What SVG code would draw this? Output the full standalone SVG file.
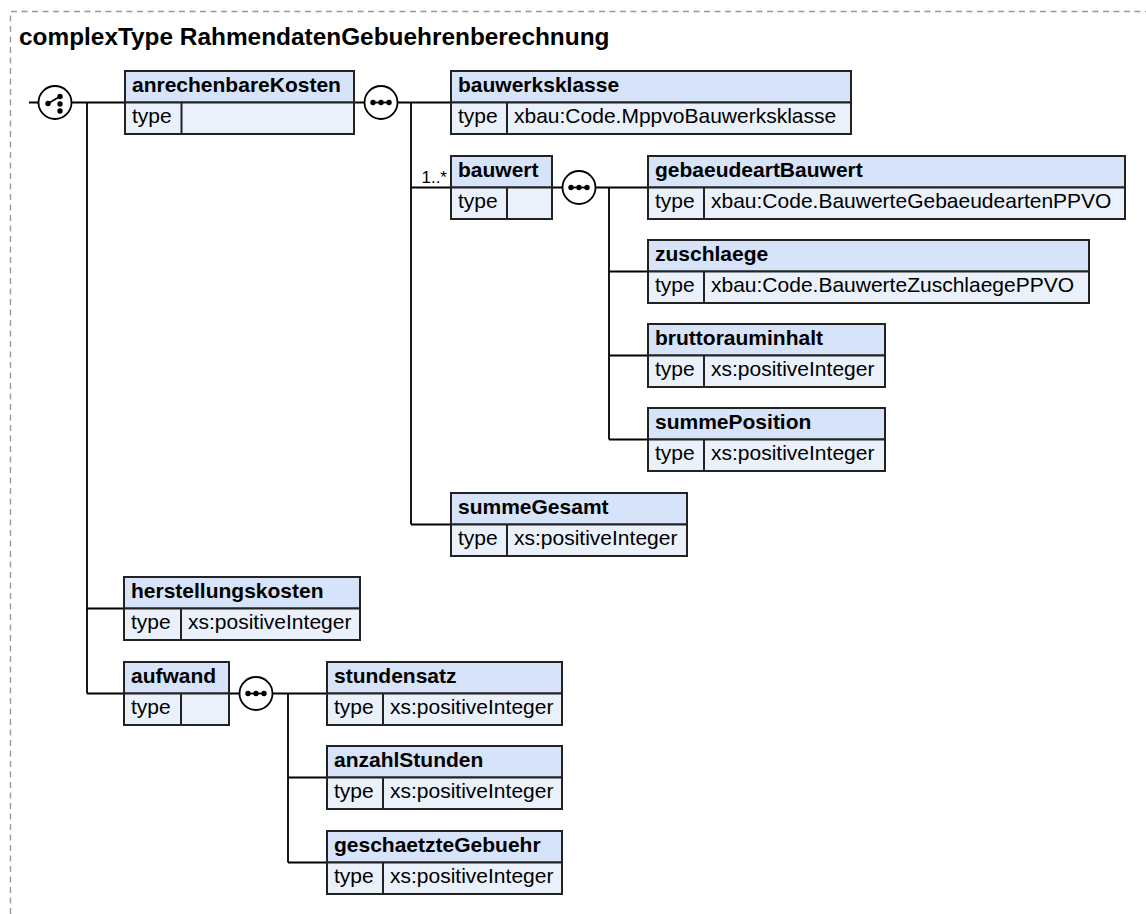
<svg xmlns="http://www.w3.org/2000/svg" width="1146" height="914" viewBox="0 0 1146 914">
<style>
.frame{fill:none;stroke:#999;stroke-width:1.4;stroke-dasharray:6 4.5}
.title{font-family:"Liberation Sans",Arial,sans-serif;font-weight:bold;font-size:24.4px;fill:#000}
.hd{fill:#d6e3f8;stroke:#222;stroke-width:2}
.ty{fill:#eaf1fb;stroke:#222;stroke-width:2}
.nm{font-family:"Liberation Sans",Arial,sans-serif;font-weight:bold;font-size:21px;fill:#000}
.tx{font-family:"Liberation Sans",Arial,sans-serif;font-size:21px;fill:#000}
.occ{font-family:"Liberation Sans",Arial,sans-serif;font-size:17px;fill:#000}
.ln{fill:none;stroke:#000;stroke-width:1.8}
.cir{fill:#fff;stroke:#000;stroke-width:1.8}
.dot{fill:#000}
</style>
<defs>
<g id="seq">
<circle class="cir" cx="0" cy="0" r="16.5"/>
<line x1="-10" y1="0" x2="10" y2="0" stroke="#000" stroke-width="1.8"/>
<circle class="dot" cx="-8" cy="0" r="2.7"/>
<circle class="dot" cx="0" cy="0" r="2.7"/>
<circle class="dot" cx="8" cy="0" r="2.7"/>
</g>
<g id="choice">
<circle class="cir" cx="0" cy="0" r="16.5"/>
<line x1="-7" y1="1" x2="5" y2="-6" stroke="#000" stroke-width="1.8"/>
<circle class="dot" cx="-7" cy="1" r="2.7"/>
<circle class="dot" cx="5" cy="-6" r="2.7"/>
<circle class="dot" cx="5" cy="1.5" r="2.7"/>
<circle class="dot" cx="5" cy="8.5" r="2.7"/>
</g>
</defs>
<path class="frame" d="M10.5,914 V11.5 H1146"/>
<text class="title" x="19" y="45">complexType RahmendatenGebuehrenberechnung</text>

<g id="connectors">
<path class="ln" d="M29,102.5 H39 M71,102.5 H125 M87,102.5 V693.5 M87,608.5 H124 M87,693.5 H124"/>
<path class="ln" d="M354,102.5 H365 M397,102.5 H451 M411,102.5 V524.5 M411,187.5 H451 M411,524.5 H451"/>
<path class="ln" d="M552,187.5 H563 M595,187.5 H648 M609,187.5 V439.5 M609,271.5 H648 M609,355.5 H648 M609,439.5 H648"/>
<path class="ln" d="M229,693.5 H240 M272,693.5 H327 M288,693.5 V862.5 M288,777.5 H327 M288,862.5 H327"/>
<text class="occ" x="447" y="183" text-anchor="end">1..*</text>
</g>

<g id="choice1"><use href="#choice" x="55" y="102.5"/></g>
<g id="seq1"><use href="#seq" x="381" y="102.5"/></g>
<g id="seq2"><use href="#seq" x="579" y="187.5"/></g>
<g id="seq3"><use href="#seq" x="256" y="693.5"/></g>

<g id="anrechenbareKosten">
<rect class="hd" x="125" y="71" width="229" height="31.5"/>
<rect class="ty" x="125" y="102.5" width="229" height="31.5"/>
<line x1="181.5" y1="102.5" x2="181.5" y2="134" stroke="#222" stroke-width="2"/>
<text class="nm" x="132" y="92">anrechenbareKosten</text>
<text class="tx" x="132" y="123">type</text>
</g>

<g id="bauwerksklasse">
<rect class="hd" x="451" y="71" width="400" height="31.5"/>
<rect class="ty" x="451" y="102.5" width="400" height="31.5"/>
<line x1="507" y1="102.5" x2="507" y2="134" stroke="#222" stroke-width="2"/>
<text class="nm" x="458" y="92">bauwerksklasse</text>
<text class="tx" x="458" y="123">type</text>
<text class="tx" x="514" y="123">xbau:Code.MppvoBauwerksklasse</text>
</g>

<g id="bauwert">
<rect class="hd" x="451" y="156" width="101" height="31.5"/>
<rect class="ty" x="451" y="187.5" width="101" height="31.5"/>
<line x1="507" y1="187.5" x2="507" y2="219" stroke="#222" stroke-width="2"/>
<text class="nm" x="458" y="177">bauwert</text>
<text class="tx" x="458" y="208">type</text>
</g>

<g id="gebaeudeartBauwert">
<rect class="hd" x="648" y="156" width="477" height="31.5"/>
<rect class="ty" x="648" y="187.5" width="477" height="31.5"/>
<line x1="704" y1="187.5" x2="704" y2="219" stroke="#222" stroke-width="2"/>
<text class="nm" x="655" y="177">gebaeudeartBauwert</text>
<text class="tx" x="655" y="208">type</text>
<text class="tx" x="711" y="208">xbau:Code.BauwerteGebaeudeartenPPVO</text>
</g>

<g id="zuschlaege">
<rect class="hd" x="648" y="240" width="441" height="31.5"/>
<rect class="ty" x="648" y="271.5" width="441" height="31.5"/>
<line x1="704" y1="271.5" x2="704" y2="303" stroke="#222" stroke-width="2"/>
<text class="nm" x="655" y="261">zuschlaege</text>
<text class="tx" x="655" y="292">type</text>
<text class="tx" x="711" y="292">xbau:Code.BauwerteZuschlaegePPVO</text>
</g>

<g id="bruttorauminhalt">
<rect class="hd" x="648" y="324" width="237" height="31.5"/>
<rect class="ty" x="648" y="355.5" width="237" height="31.5"/>
<line x1="704" y1="355.5" x2="704" y2="387" stroke="#222" stroke-width="2"/>
<text class="nm" x="655" y="345">bruttorauminhalt</text>
<text class="tx" x="655" y="376">type</text>
<text class="tx" x="711" y="376">xs:positiveInteger</text>
</g>

<g id="summePosition">
<rect class="hd" x="648" y="408" width="237" height="31.5"/>
<rect class="ty" x="648" y="439.5" width="237" height="31.5"/>
<line x1="704" y1="439.5" x2="704" y2="471" stroke="#222" stroke-width="2"/>
<text class="nm" x="655" y="429">summePosition</text>
<text class="tx" x="655" y="460">type</text>
<text class="tx" x="711" y="460">xs:positiveInteger</text>
</g>

<g id="summeGesamt">
<rect class="hd" x="451" y="493" width="236" height="31.5"/>
<rect class="ty" x="451" y="524.5" width="236" height="31.5"/>
<line x1="507" y1="524.5" x2="507" y2="556" stroke="#222" stroke-width="2"/>
<text class="nm" x="458" y="514">summeGesamt</text>
<text class="tx" x="458" y="545">type</text>
<text class="tx" x="514" y="545">xs:positiveInteger</text>
</g>

<g id="herstellungskosten">
<rect class="hd" x="124" y="577" width="236" height="31.5"/>
<rect class="ty" x="124" y="608.5" width="236" height="31.5"/>
<line x1="181" y1="608.5" x2="181" y2="640" stroke="#222" stroke-width="2"/>
<text class="nm" x="131" y="598">herstellungskosten</text>
<text class="tx" x="131" y="629">type</text>
<text class="tx" x="188" y="629">xs:positiveInteger</text>
</g>

<g id="aufwand">
<rect class="hd" x="124" y="662" width="105" height="31.5"/>
<rect class="ty" x="124" y="693.5" width="105" height="31.5"/>
<line x1="181" y1="693.5" x2="181" y2="725" stroke="#222" stroke-width="2"/>
<text class="nm" x="131" y="683">aufwand</text>
<text class="tx" x="131" y="714">type</text>
</g>

<g id="stundensatz">
<rect class="hd" x="327" y="662" width="235" height="31.5"/>
<rect class="ty" x="327" y="693.5" width="235" height="31.5"/>
<line x1="383" y1="693.5" x2="383" y2="725" stroke="#222" stroke-width="2"/>
<text class="nm" x="334" y="683">stundensatz</text>
<text class="tx" x="334" y="714">type</text>
<text class="tx" x="390" y="714">xs:positiveInteger</text>
</g>

<g id="anzahlStunden">
<rect class="hd" x="327" y="746" width="235" height="31.5"/>
<rect class="ty" x="327" y="777.5" width="235" height="31.5"/>
<line x1="383" y1="777.5" x2="383" y2="809" stroke="#222" stroke-width="2"/>
<text class="nm" x="334" y="767">anzahlStunden</text>
<text class="tx" x="334" y="798">type</text>
<text class="tx" x="390" y="798">xs:positiveInteger</text>
</g>

<g id="geschaetzteGebuehr">
<rect class="hd" x="327" y="831" width="235" height="31.5"/>
<rect class="ty" x="327" y="862.5" width="235" height="31.5"/>
<line x1="383" y1="862.5" x2="383" y2="894" stroke="#222" stroke-width="2"/>
<text class="nm" x="334" y="852">geschaetzteGebuehr</text>
<text class="tx" x="334" y="883">type</text>
<text class="tx" x="390" y="883">xs:positiveInteger</text>
</g>
</svg>
